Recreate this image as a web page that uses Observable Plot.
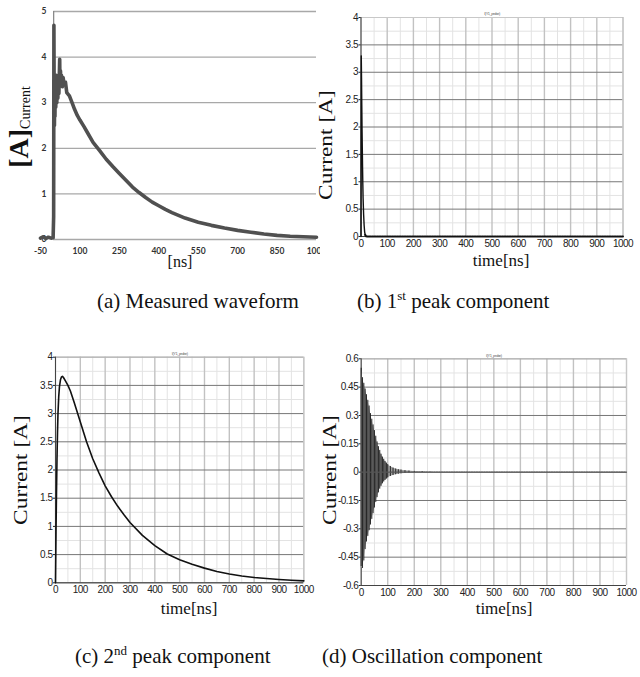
<!DOCTYPE html>
<html><head><meta charset="utf-8">
<script src="https://cdn.jsdelivr.net/npm/d3@7"></script>
<script src="https://cdn.jsdelivr.net/npm/@observablehq/plot@0.6"></script>
<style>
body{margin:0;background:#fff;}
#fig{position:relative;width:640px;height:677px;background:#fff;overflow:hidden;font-family:"Liberation Serif","Times New Roman",serif;color:#111;}
.lab{position:absolute;white-space:nowrap;line-height:1;}
.cap{position:absolute;white-space:nowrap;font-size:21px;line-height:1;}
.cap sup{font-size:13px;vertical-align:8px;line-height:0;}
</style></head><body><div id="fig"></div>
<script>
// ---------- (a) measured waveform ----------
const aT = [-50,-40,-30,-20,-10,-2,0,1,2,3,4,5,6,8,10,12,14,16,18,20,22,23,24,26,28,30,33,36,40,45,50,60,70,80,90,100,115,130,150,175,200,225,250,275,300,325,350,375,400,425,450,475,500,550,600,650,700,750,800,850,900,950,1000];
const aI = [0.03,0.06,0.02,0.05,0.03,0.04,0.5,4.7,3.0,2.5,3.4,2.7,3.5,2.9,3.6,3.0,3.5,3.1,3.6,3.2,3.7,3.95,3.4,3.7,3.4,3.6,3.35,3.55,3.4,3.45,3.22,3.15,3.0,2.85,2.72,2.62,2.48,2.33,2.13,1.95,1.76,1.6,1.45,1.3,1.15,1.03,0.92,0.82,0.74,0.66,0.59,0.53,0.47,0.38,0.31,0.25,0.2,0.16,0.12,0.09,0.07,0.06,0.05];
const aXTicks = [-50,100,250,400,550,700,850,1000];
const aYTicks = [0,1,2,3,4,5];

// ---------- (b) 1st peak component ----------
const bT = [0,1,2,3,4,5,6,7,8,10,12,14,16,20,1000];
const bI = [0,3.3,2.9,2.4,1.95,1.6,1.25,0.95,0.7,0.4,0.2,0.08,0.03,0.0,0.0];

// ---------- (c) 2nd peak component ----------
const cT = [0,2,4,6,8,10,13,16,20,24,28,32,40,50,60,75,100,125,150,175,200,225,250,275,300,350,400,450,500,550,600,650,700,750,800,850,900,950,1000];
const cI = [0,0.9,1.6,2.2,2.65,3.0,3.3,3.48,3.6,3.65,3.66,3.64,3.58,3.5,3.4,3.2,2.85,2.5,2.2,1.95,1.72,1.53,1.36,1.21,1.07,0.84,0.66,0.51,0.41,0.33,0.26,0.2,0.155,0.12,0.095,0.075,0.058,0.045,0.035];

// ---------- (d) oscillation component (envelope of the oscillation) ----------
const dT  = [0,5,10,15,20,25,30,35,40,45,50,55,60,65,70,75,80,85,90,95,100,110,120,130,140,150,165,180,200,230,260];
const dHi = [0.55,0.5,0.47,0.44,0.41,0.38,0.35,0.31,0.28,0.25,0.22,0.19,0.16,0.135,0.115,0.095,0.08,0.068,0.057,0.048,0.04,0.03,0.022,0.017,0.013,0.011,0.008,0.006,0.004,0.002,0.001];
const dLo = [-0.5,-0.51,-0.47,-0.41,-0.37,-0.34,-0.31,-0.28,-0.25,-0.22,-0.19,-0.16,-0.135,-0.11,-0.09,-0.075,-0.062,-0.052,-0.044,-0.037,-0.031,-0.023,-0.018,-0.014,-0.011,-0.009,-0.007,-0.005,-0.0035,-0.002,-0.001];
const dZeroT = [0,1000];

// ---------- shared ticks ----------
const tMajor = [0,100,200,300,400,500,600,700,800,900,1000];
const tMinor = [50,150,250,350,450,550,650,750,850,950];
const bYTicks = [0,0.5,1,1.5,2,2.5,3,3.5,4];
const bYMinor = [0.25,0.75,1.25,1.75,2.25,2.75,3.25,3.75];
const dYTicks = [-0.6,-0.45,-0.3,-0.15,0,0.15,0.3,0.45,0.6];
const dYMinor = [-0.525,-0.375,-0.225,-0.075,0.075,0.225,0.375,0.525];

const fig = document.getElementById("fig");
const tickFont = '"Liberation Sans Narrow","Arial Narrow","Liberation Sans",Arial,sans-serif';
const fmt = d => String(d);

function place(el, left, top) {
  el.style.position = "absolute";
  el.style.left = left + "px";
  el.style.top = top + "px";
  el.style.maxWidth = "none";
  fig.appendChild(el);
}
function label(html, cx, cy, size, rot, stretch) {
  const d = document.createElement("div");
  d.className = "lab";
  d.innerHTML = html;
  d.style.left = cx + "px";
  d.style.top = cy + "px";
  d.style.fontSize = size + "px";
  d.style.transform = "translate(-50%,-50%)" + (rot ? " rotate(-90deg)" : "") + (stretch ? ` scaleX(${stretch})` : "");
  fig.appendChild(d);
}
function caption(html, left, top) {
  const d = document.createElement("div");
  d.className = "cap";
  d.innerHTML = html;
  d.style.left = left + "px";
  d.style.top = top + "px";
  fig.appendChild(d);
}

// ----- panel (a) -----
const aData = aT.map((t, i) => ({t, v: aI[i]}));
const pA = Plot.plot({
  width: 320, height: 280,
  marginLeft: 40, marginRight: 4, marginTop: 11, marginBottom: 41,
  style: {fontFamily: "Lato, 'Open Sans', sans-serif", fontSize: "8.5px", color: "#333", background: "transparent"},
  x: {domain: [-50, 1000], axis: null},
  y: {domain: [0, 5], axis: null},
  marks: [
    Plot.ruleY(aYTicks, {x1: 0, x2: 1000, stroke: "#a8a8a8", strokeWidth: 1.3}),
    Plot.ruleX([0], {y1: 0, y2: 5, stroke: "#8a8a8a", strokeWidth: 1.3}),
    Plot.axisY({ticks: aYTicks, tickSize: 0, tickPadding: 0, dx: 6, fontWeight: "bold", tickFormat: fmt, label: null}),
    Plot.axisX({ticks: aXTicks, tickSize: 0, tickPadding: 8, fontWeight: "bold", tickFormat: fmt, label: null}),
    Plot.line(aData, {x: "t", y: "v", stroke: "#505050", strokeWidth: 3.6, strokeLinejoin: "round"})
  ]
});
place(pA, 0, 0);

// ----- simulator-style panels -----
function simPanel({height, ml, mr, mt, mb, yDomain, yTicks, yMinor, extra}) {
  const [y0, y1] = yDomain;
  return Plot.plot({
    width: 320, height,
    marginLeft: ml, marginRight: mr, marginTop: mt, marginBottom: mb,
    style: {fontFamily: tickFont, fontSize: "10px", color: "#222", background: "transparent", letterSpacing: "-0.5px"},
    x: {domain: [0, 1000], axis: null},
    y: {domain: yDomain, axis: null},
    marks: [
      Plot.ruleX(tMinor, {stroke: "#e3e3e3"}),
      Plot.ruleY(yMinor, {stroke: "#e3e3e3"}),
      Plot.ruleX(tMajor, {stroke: "#c2c2c2", strokeWidth: 1.4}),
      Plot.ruleY(yTicks, {stroke: "#777", strokeWidth: 1}),
      Plot.ruleY([y1], {stroke: "#c8c8c8"}),
      Plot.ruleX([1000], {stroke: "#c8c8c8"}),
      Plot.ruleX([0], {stroke: "#444"}),
      Plot.ruleY([y0], {stroke: "#444"}),
      Plot.text(["I(Y1_probe)"], {frameAnchor: "top", dy: -5, fontSize: 4, fill: "#666"}),
      Plot.axisY({ticks: yTicks, tickSize: 2, tickPadding: 1, tickFormat: fmt, label: null}),
      Plot.axisX({ticks: tMajor, tickSize: 0, tickPadding: 3, tickFormat: fmt, label: null}),
      ...extra
    ]
  });
}

const bData = bT.map((t, i) => ({t, v: bI[i]}));
const pB = simPanel({
  height: 280, ml: 40.5, mr: 17.5, mt: 17, mb: 44,
  yDomain: [0, 4], yTicks: bYTicks, yMinor: bYMinor,
  extra: [
    Plot.line(bData.filter(d => d.t >= 16), {x: "t", y: "v", stroke: "#111", strokeWidth: 2, strokeDasharray: "1.5,1"}),
    Plot.line(bData.filter(d => d.t <= 16), {x: "t", y: "v", stroke: "#111", strokeWidth: 1.4})
  ]
});
place(pB, 320, 0);

const cData = cT.map((t, i) => ({t, v: cI[i]}));
const pC = simPanel({
  height: 290, ml: 55, mr: 16.7, mt: 26.7, mb: 37.7,
  yDomain: [0, 4], yTicks: bYTicks, yMinor: bYMinor,
  extra: [
    Plot.line(cData, {x: "t", y: "v", stroke: "#111", strokeWidth: 1.6})
  ]
});
place(pC, 0, 330);

const dData = dT.map((t, i) => ({t, hi: dHi[i], lo: dLo[i]}));
const pD = simPanel({
  height: 290, ml: 40.7, mr: 14, mt: 28.3, mb: 35,
  yDomain: [-0.6, 0.6], yTicks: dYTicks, yMinor: dYMinor,
  extra: [
    Plot.areaY(dData, {x: "t", y1: "lo", y2: "hi", fill: "#a0a0a0"}),
    Plot.ruleX(dData, {x: "t", y1: "lo", y2: "hi", stroke: "#1a1a1a", strokeWidth: 0.9}),
    Plot.line(dZeroT.map(t => ({t, v: 0})), {x: "t", y: "v", stroke: "#555", strokeWidth: 1.2, strokeDasharray: "1.5,1"})
  ]
});
place(pD, 320, 330);

// ----- axis titles -----
label('<span style="font-weight:bold;font-size:28px">[A]</span><span style="font-size:14px;position:relative;top:2px">Current</span>', 19, 127, 28, true);
label('[ns]', 180, 262, 16, false);
label('Current [A]', 326, 145, 18, true, 1.3);
label('time[ns]', 501, 260, 17, false);
label('Current [A]', 21, 470, 18, true, 1.3);
label('time[ns]', 189, 608, 17, false);
label('Current [A]', 330, 470, 18, true, 1.3);
label('time[ns]', 504, 608, 17, false);

// ----- captions -----
caption('(a) Measured waveform', 97, 291);
caption('(b) 1<sup>st</sup> peak component', 357, 291);
caption('(c) 2<sup>nd</sup> peak component', 75, 646);
caption('(d) Oscillation component', 322, 646);
</script></body></html>
